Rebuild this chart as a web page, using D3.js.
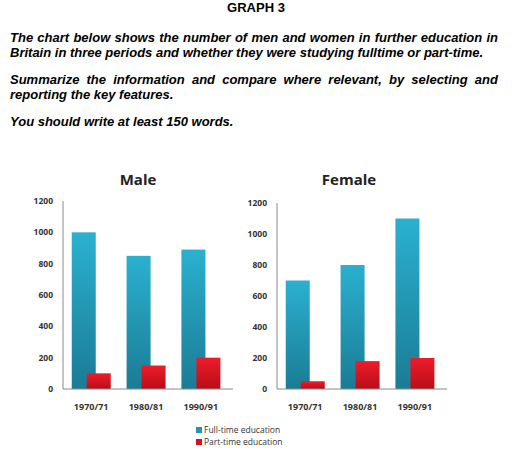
<!DOCTYPE html>
<html><head><meta charset="utf-8">
<script src="https://cdn.jsdelivr.net/npm/d3@7"></script>
<style>
body{margin:0;background:#fff;font-family:"Liberation Sans",Arial,sans-serif}
.txt{position:absolute;left:10px;width:488px;font-size:13px;font-weight:bold;font-style:italic;text-align:justify;line-height:15px;color:#000}
</style></head><body>
<div style="position:absolute;top:0;width:512px;text-align:center;font-size:13px;font-weight:bold">GRAPH 3</div>
<div class="txt" style="top:30px">The chart below shows the number of men and women in further education in Britain in three periods and whether they were studying fulltime or part-time.</div>
<div class="txt" style="top:72px">Summarize the information and compare where relevant, by selecting and reporting the key features.</div>
<div class="txt" style="top:114px">You should write at least 150 words.</div>
<svg id="chart" width="512" height="456" style="position:absolute;left:0;top:0"></svg>
<script>
var periods = ["1970/71", "1980/81", "1990/91"];
var yTicks = [0, 200, 400, 600, 800, 1000, 1200];
var maleFull = [1000, 850, 890];
var malePart = [100, 150, 200];
var femaleFull = [700, 800, 1100];
var femalePart = [50, 180, 200];
var seriesNames = ["Full-time education", "Part-time education"];

var svg = d3.select('#chart');
var defs = svg.append('defs');
function grad(id, c1, c2) {
  var g = defs.append('linearGradient').attr('id', id).attr('x1', 0).attr('x2', 0).attr('y1', 0).attr('y2', 1);
  g.append('stop').attr('offset', '0%').attr('stop-color', c1);
  g.append('stop').attr('offset', '100%').attr('stop-color', c2);
}
grad('gBlue', '#2bb0d0', '#1a7c95');
grad('gRed', '#ee1c2a', '#b80d18');

function panel(title, full, part, axisX, right, top, titleX) {
  var y = d3.scaleLinear().domain([0, 1200]).range([389, top]);
  var x = d3.scaleBand().domain(periods).range([axisX, right]).paddingInner(0).paddingOuter(0.05);
  var g = svg.append('g').style('font-family', '"Open Sans",Arial,sans-serif');
  g.append('line').attr('x1', axisX).attr('x2', axisX).attr('y1', top).attr('y2', 389).attr('stroke', '#888');
  g.selectAll('text.yt').data(yTicks).enter().append('text')
    .attr('x', axisX - 10).attr('y', function(d) { return y(d) + 3; })
    .attr('text-anchor', 'end').style('font-size', '8.5px').style('font-weight', 'bold').attr('fill', '#333')
    .text(function(d) { return d; });
  var bw = 24, off = 15;
  g.selectAll('rect.f').data(full).enter().append('rect')
    .attr('x', function(d, i) { return x(periods[i]) + 6; })
    .attr('y', function(d) { return y(d); }).attr('width', bw)
    .attr('height', function(d) { return 389 - y(d); }).attr('fill', 'url(#gBlue)');
  g.selectAll('rect.p').data(part).enter().append('rect')
    .attr('x', function(d, i) { return x(periods[i]) + 6 + off; })
    .attr('y', function(d) { return y(d); }).attr('width', bw)
    .attr('height', function(d) { return 389 - y(d); }).attr('fill', 'url(#gRed)');
  g.append('line').attr('x1', axisX).attr('x2', right).attr('y1', 389).attr('y2', 389).attr('stroke', '#888');
  g.selectAll('text.xt').data(periods).enter().append('text')
    .attr('x', function(d) { return x(d) + x.bandwidth() / 2 - 2; }).attr('y', 410)
    .attr('text-anchor', 'middle').style('font-size', '9px').style('font-weight', 'bold').attr('fill', '#333')
    .text(function(d) { return d; });
  g.append('text').attr('x', titleX).attr('y', 185).attr('text-anchor', 'middle')
    .style('font-size', '15px').style('font-weight', 'bold').attr('fill', '#222').text(title);
}
panel('Male', maleFull, malePart, 63, 233, 201, 138);
panel('Female', femaleFull, femalePart, 277, 447, 203, 349);

var leg = svg.append('g').style('font-family', '"Open Sans",Arial,sans-serif');
leg.selectAll('rect').data(seriesNames).enter().append('rect')
  .attr('x', 196).attr('y', function(d, i) { return 427 + i * 12; }).attr('width', 6).attr('height', 6)
  .attr('fill', function(d, i) { return i ? '#d3101c' : '#1f96b5'; });
leg.selectAll('text').data(seriesNames).enter().append('text')
  .attr('x', 204).attr('y', function(d, i) { return 433 + i * 12; })
  .style('font-size', '8.5px').attr('fill', '#333').text(function(d) { return d; });
</script>
</body></html>
